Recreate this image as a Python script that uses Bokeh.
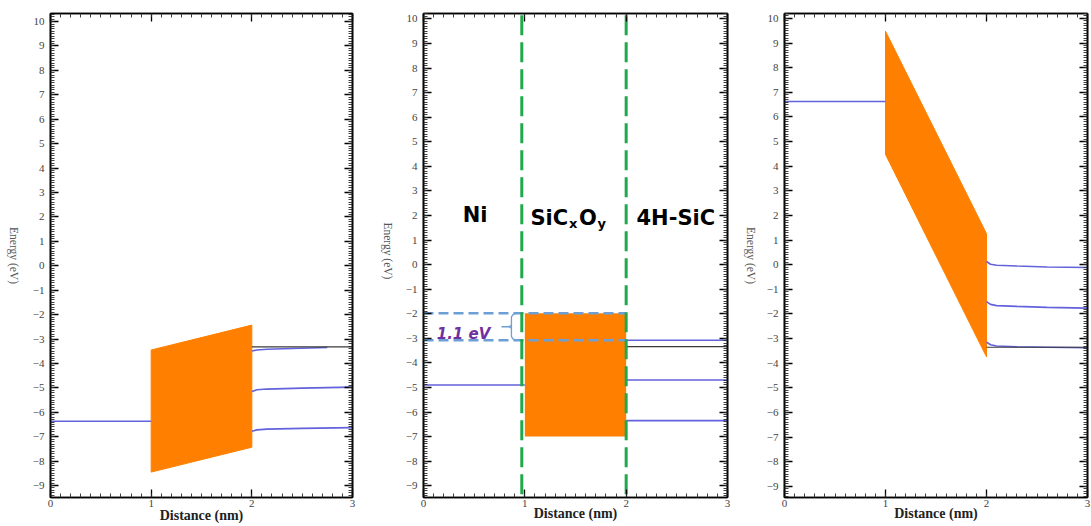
import math

from bokeh.core.properties import value
from bokeh.embed import file_html
from bokeh.layouts import row
from bokeh.models import CustomLabelingPolicy, Label, LinearAxis, Range1d, SingleIntervalTicker
from bokeh.plotting import figure
from bokeh.resources import INLINE

# ---------------- data (energies in eV, distances in nm) ----------------
x_tick_values = [0, 1, 2, 3]
y_tick_values = list(range(-9, 11))

# left panel: band diagram at small bias
a_metal_x = [0, 1]
a_metal_y = [-6.37, -6.37]
a_oxide_x = [1, 2, 2, 1]
a_oxide_y = [-3.45, -2.43, -7.43, -8.45]
a_fermi_x = [2, 3]
a_fermi_y = [-3.32, -3.32]
a_ec_x = [2.0, 2.05, 2.15, 2.4, 2.75]
a_ec_y = [-3.49, -3.45, -3.42, -3.39, -3.35]
a_ei_x = [2.0, 2.05, 2.15, 2.5, 3.0]
a_ei_y = [-5.15, -5.08, -5.05, -5.01, -4.97]
a_ev_x = [2.0, 2.05, 2.15, 2.5, 3.0]
a_ev_y = [-6.78, -6.72, -6.69, -6.66, -6.63]

# middle panel: flat-band Ni / SiCxOy / 4H-SiC stack
b_metal_x = [0, 1]
b_metal_y = [-4.9, -4.9]
b_sic_ec = -3.08
b_band_offset = 1.1
b_oxide_top = b_sic_ec + b_band_offset
b_oxide_bottom = -7.0
b_oxide_x = [1, 2]
b_fermi_y = -3.34
b_ei_y = -4.7
b_ev_y = -6.35
b_interfaces = [0.97, 2.0]
b_layer_names = ["Ni", "SiC", "4H-SiC"]

# right panel: band diagram at large bias
c_metal_x = [0, 1]
c_metal_y = [6.63, 6.63]
c_oxide_x = [1, 2, 2, 1]
c_oxide_y = [9.48, 1.26, -3.74, 4.48]
c_fermi_x = [2, 3]
c_fermi_y = [-3.35, -3.35]
c_band_x = [2.0, 2.04, 2.1, 2.3, 2.6, 3.0]
c_ec_y = [0.13, 0.02, -0.02, -0.05, -0.09, -0.11]
c_ei_y = [-1.5, -1.61, -1.66, -1.69, -1.73, -1.76]
c_ev_y = [-3.14, -3.25, -3.3, -3.33, -3.35, -3.37]

y_title = "Energy (eV)"
x_title = "Distance (nm)"

# ---------------- styles ----------------
ORANGE = "#ff8000"
BAND_BLUE = "#6262dc"
FERMI = "#3a3a3a"
GREEN = "#1fa84c"
BOX_BLUE = "#6c9fd6"
PURPLE = "#7030a0"
SERIF = "Liberation Serif"
SANS = "DejaVu Sans"
HEIGHT = 526

# top and right frame axes carry ticks only
NO_LABELS = CustomLabelingPolicy(code="""
    for (const i of Array.from(indices)) { indices.unset(i) }
    return indices
""")


def title_strip(width, cx, cy):
    """Narrow canvas holding a y title that reads from top to bottom."""
    s = figure(width=width, height=HEIGHT, x_range=Range1d(0, width), y_range=Range1d(0, HEIGHT),
               output_backend="svg", toolbar_location=None,
               x_axis_location=None, y_axis_location=None, min_border=0)
    s.title.visible = False
    s.grid.visible = False
    s.outline_line_color = None
    s.text(x=[cx], y=[HEIGHT - cy], text=[y_title], angle=-math.pi / 2,
           text_font=value(SERIF), text_font_size="11.5px", text_color="#555555",
           text_align="center", text_baseline="middle")
    return s


def make_panel(width, y_lo, y_hi, left, right, top, bottom, xlabel_standoff):
    p = figure(width=width, height=HEIGHT, x_range=Range1d(0, 3), y_range=Range1d(y_lo, y_hi),
               output_backend="svg", toolbar_location=None,
               x_axis_location=None, y_axis_location=None,
               min_border_left=left, min_border_right=right,
               min_border_top=top, min_border_bottom=bottom)
    p.title.visible = False
    p.grid.visible = False
    p.background_fill_color = "white"
    p.border_fill_color = "white"
    p.outline_line_color = "black"
    p.outline_line_width = 1.6

    for loc in ("below", "above", "left", "right"):
        ax = LinearAxis(ticker=SingleIntervalTicker(interval=1, num_minor_ticks=10))
        ax.axis_line_color = "black"
        ax.axis_line_width = 1.6
        ax.major_tick_in = 8
        ax.major_tick_out = 0
        ax.minor_tick_in = 4
        ax.minor_tick_out = 0
        ax.major_tick_line_color = "black"
        ax.major_tick_line_width = 1.3
        ax.minor_tick_line_color = "#2a2a2a"
        ax.minor_tick_line_width = 0.9
        if loc in ("below", "left"):
            ax.major_label_text_font = SERIF
            ax.major_label_text_font_size = "11px"
            ax.major_label_text_color = "#444444"
        if loc == "left":
            ax.major_label_standoff = 6
        elif loc == "below":
            ax.major_label_standoff = 2
            ax.axis_label = x_title
            ax.axis_label_text_font = SERIF
            ax.axis_label_standoff = xlabel_standoff
            ax.axis_label_text_font_size = "14px"
            ax.axis_label_text_font_style = "bold"
            ax.axis_label_text_color = "#222222"
        else:
            ax.major_label_policy = NO_LABELS
            ax.major_label_text_font_size = "1px"
            ax.major_label_standoff = 0
            if loc == "above":
                ax.major_label_orientation = "vertical"
        p.add_layout(ax, loc)
    return p


# ---------------- left panel ----------------
sa = title_strip(26, 13, 263)
pa = make_panel(339, -9.49, 10.33, 24, 13, 8, 29, -2)
pa.patch(a_oxide_x, a_oxide_y, fill_color=ORANGE, line_color=ORANGE)
pa.line(a_metal_x, a_metal_y, line_color=BAND_BLUE, line_width=1.6)
pa.line(a_ec_x, a_ec_y, line_color=BAND_BLUE, line_width=1.6)
pa.line(a_ei_x, a_ei_y, line_color=BAND_BLUE, line_width=1.6)
pa.line(a_ev_x, a_ev_y, line_color=BAND_BLUE, line_width=1.6)
pa.line(a_fermi_x, a_fermi_y, line_color=FERMI, line_width=1.2)

# ---------------- middle panel ----------------
sb = title_strip(35, 22, 258)
pb = make_panel(340, -9.48, 10.22, 23, 13, 13, 27, -4)
pb.quad(left=b_oxide_x[0], right=b_oxide_x[1], top=b_oxide_top, bottom=b_oxide_bottom,
        fill_color=ORANGE, line_color=None)
pb.line(b_metal_x, b_metal_y, line_color=BAND_BLUE, line_width=1.6)
for level, color in ((b_sic_ec, BAND_BLUE), (b_fermi_y, FERMI), (b_ei_y, BAND_BLUE), (b_ev_y, BAND_BLUE)):
    pb.line([2, 3], [level, level], line_color=color, line_width=1.6 if color == BAND_BLUE else 1.2)

# conduction-band offset marker
for level in (b_oxide_top, b_sic_ec):
    pb.line([0, 2], [level, level], line_color=BOX_BLUE, line_width=2.5, line_dash="10 5")
mid = (b_oxide_top + b_sic_ec) / 2
brace_x = [0.92, 0.885, 0.868, 0.868, 0.845, 0.868, 0.868, 0.885, 0.92]
brace_y = [b_oxide_top, b_oxide_top - 0.05, b_oxide_top - 0.15, mid - 0.07, mid,
           mid + 0.07, b_sic_ec + 0.15, b_sic_ec + 0.05, b_sic_ec]
pb.line(brace_x, brace_y, line_color=BOX_BLUE, line_width=1.3)
pb.line([0.77, 0.845], [mid, mid], line_color=BOX_BLUE, line_width=1.3)
pb.add_layout(Label(x=0.395, y=-2.84, text=f"{b_band_offset} eV", text_font=SANS,
                    text_font_size="15px", text_font_style="bold italic", text_color=PURPLE,
                    text_align="center", text_baseline="alphabetic"))

# interfaces
for xi in b_interfaces:
    pb.line([xi, xi], [10.15, -9.48], line_color=GREEN, line_width=3, line_dash="20 7")

# layer names
name_style = dict(text_font=SANS, text_font_style="bold", text_color="black",
                  text_baseline="alphabetic")
pb.add_layout(Label(x=0.51, y=2.03, text=b_layer_names[0], text_font_size="21px",
                    text_align="center", **name_style))
pb.add_layout(Label(x=1.055, y=1.9, text=b_layer_names[1], text_font_size="21px",
                    text_align="left", **name_style))
pb.add_layout(Label(x=1.055, y=1.68, x_offset=38.5, text="x", text_font_size="13px",
                    text_align="left", **name_style))
pb.add_layout(Label(x=1.055, y=1.9, x_offset=48.5, text="O", text_font_size="21px",
                    text_align="left", **name_style))
pb.add_layout(Label(x=1.055, y=1.68, x_offset=67, text="y", text_font_size="13px",
                    text_align="left", **name_style))
pb.add_layout(Label(x=2.49, y=1.9, text=b_layer_names[2], text_font_size="21px",
                    text_align="center", **name_style))

# ---------------- right panel ----------------
sc = title_strip(22, 10, 263)
pc = make_panel(329, -9.45, 10.2, 22, 2, 13, 27, -4)
pc.patch(c_oxide_x, c_oxide_y, fill_color=ORANGE, line_color=ORANGE)
pc.line(c_metal_x, c_metal_y, line_color=BAND_BLUE, line_width=1.6)
pc.line(c_band_x, c_ec_y, line_color=BAND_BLUE, line_width=1.6)
pc.line(c_band_x, c_ei_y, line_color=BAND_BLUE, line_width=1.6)
pc.line(c_band_x, c_ev_y, line_color=BAND_BLUE, line_width=1.6)
pc.line(c_fermi_x, c_fermi_y, line_color=FERMI, line_width=1.2)

layout = row(sa, pa, sb, pb, sc, pc)
open("out.html", "w").write(file_html(layout, INLINE))
